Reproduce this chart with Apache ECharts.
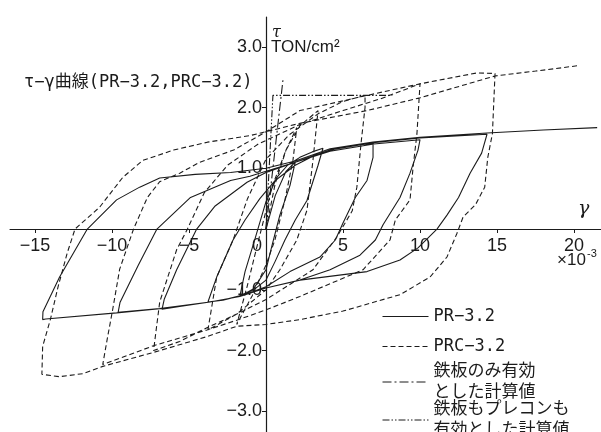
<!DOCTYPE html>
<html lang="ja">
<head>
  <meta charset="UTF-8">
  <title>τ-γ曲線</title>
  <script src="https://cdn.jsdelivr.net/npm/echarts@6.0.0/dist/echarts.min.js"></script>
  <style>
    html, body { margin: 0; padding: 0; background: #fff; }
  </style>
</head>
<body>
<div id="main" style="width:601px;height:432px;"></div>
<script>
  // 目盛り
  const xTicks = [-15, -10, -5, 0, 5, 10, 15, 20];
  const yTicks = [-3, -2, -1, 1, 2, 3];

  // PR-3.2 (実線) 履歴の各区間 [γ(×10^-3), τ(TON/cm2)]
  const prInit = [[0, 0], [0.6, 0.55], [1.3, 0.95], [1.9, 1.1]];
  const prUnload1 = [[1.9, 1.1], [1.56, 0.72], [0.9, 0.23], [0.4, -0.26], [0, -0.67], [-0.8, -0.98], [-1.7, -1.11]];
  const prReload1 = [[-1.7, -1.11], [-1.36, -0.7], [-0.7, -0.15], [0, 0.45], [0.7, 0.85], [1.4, 1.05], [2.2, 1.18], [3.0, 1.27], [3.7, 1.33]];
  const prUnload2 = [[3.7, 1.33], [3.38, 1.05], [2.66, 0.47], [1.9, 0.15], [1.23, -0.18], [0.58, -0.54], [0, -0.84], [-0.8, -1.0], [-1.7, -1.1], [-2.8, -1.17], [-3.77, -1.2]];
  const prReload2 = [[-3.77, -1.2], [-3.2, -0.79], [-2.14, -0.18], [-1.36, 0.15], [-0.4, 0.5], [0.6, 0.8], [1.9, 1.05], [3.2, 1.22], [4.5, 1.32], [5.8, 1.38], [6.95, 1.41]];
  const prUnload3 = [[6.95, 1.41], [6.95, 1.18], [6.56, 0.8], [5.8, 0.52], [5.0, 0.1], [4.5, -0.18], [3.5, -0.46], [1.56, -0.7], [0, -0.95], [-1.7, -1.11], [-3.64, -1.2], [-5.5, -1.27], [-6.75, -1.32]];
  const prReload3 = [[-6.75, -1.34], [-6.6, -1.15], [-5.8, -0.67], [-4.5, 0], [-3.3, 0.38], [-1.23, 0.77], [0, 0.93], [1.9, 1.1], [4.16, 1.28], [7, 1.4], [10, 1.47]];
  const prUnload4 = [[10, 1.47], [9.87, 1.3], [9.35, 0.92], [8.7, 0.52], [7.6, 0.07], [7.1, -0.18], [6.1, -0.43], [4.16, -0.67], [2.2, -0.84], [0, -0.97], [-1.7, -1.11], [-3.64, -1.2], [-6.9, -1.31], [-9.6, -1.37]];
  const prReload4 = [[-9.6, -1.39], [-9.48, -1.21], [-8.3, -0.6], [-7.08, 0], [-4.9, 0.52], [-2.3, 0.8], [-1.04, 0.87], [0, 0.95], [1.9, 1.1], [4.16, 1.3], [6.95, 1.42], [10, 1.5], [14.35, 1.56]];
  const prUnload5 = [[14.35, 1.56], [14.0, 1.25], [13.25, 0.92], [12.5, 0.52], [11.75, 0.23], [11.1, 0], [9.87, -0.31], [8.7, -0.51], [6.56, -0.7], [2.2, -0.84], [0, -0.97], [-1.7, -1.11], [-3.64, -1.2], [-6.9, -1.31], [-9.7, -1.38], [-14.3, -1.48], [-14.5, -1.49]];
  const prReload5 = [[-14.5, -1.49], [-14.48, -1.36], [-13.4, -0.79], [-11.6, 0], [-9.7, 0.48], [-8.2, 0.69], [-6.9, 0.84], [-4.6, 0.9], [-2.3, 0.93], [0, 1.0], [1.9, 1.12], [4.16, 1.32], [6.95, 1.43], [10, 1.51], [14.35, 1.58], [18, 1.63], [21.5, 1.67]];

  // PRC-3.2 (破線)
  const prcInit = [[0, 0], [0.6, 0.75], [1.3, 1.3], [2.0, 1.67]];
  const prcUnload1 = [[2.0, 1.67], [1.75, 1.13], [1.23, 0.48], [0.58, -0.18], [0, -0.59], [-0.9, -1.1], [-1.9, -1.57]];
  const prcReload1 = [[-1.9, -1.57], [-1.23, -0.95], [-0.5, -0.2], [0.4, 0.7], [1.3, 1.3], [2.2, 1.7], [3.38, 1.95]];
  const prcUnload2 = [[3.38, 1.95], [3.05, 1.13], [2.66, 0.31], [2.0, -0.18], [0.9, -0.67], [0, -1.0], [-1.9, -1.4], [-3.77, -1.66]];
  const prcReload2 = [[-3.77, -1.66], [-3.2, -0.79], [-2.14, -0.18], [-1.2, 0.5], [0, 1.15], [1.5, 1.55], [3.4, 1.9], [5, 2.1], [6.43, 2.2]];
  const prcUnload3 = [[6.43, 2.2], [6.43, 2.0], [6.17, 1.41], [5.9, 0.69], [5.6, 0.3], [4.6, -0.13], [3.05, -0.67], [0, -1.16], [-1.9, -1.4], [-3.8, -1.62], [-5.6, -1.85], [-7.3, -2.0]];
  const prcReload3 = [[-7.3, -2.02], [-6.9, -1.2], [-5.8, -0.34], [-5.1, 0], [-4.0, 0.6], [-2.5, 1.05], [-0.5, 1.4], [2.2, 1.72], [5, 1.95], [7.5, 2.15], [10, 2.39]];
  const prcUnload4 = [[10, 2.39], [9.8, 1.57], [9.55, 1.02], [9.35, 0.48], [8.4, 0.15], [8.05, -0.18], [6.3, -0.67], [2.2, -1.11], [0, -1.33], [-1.9, -1.5], [-3.83, -1.66], [-7.3, -1.92], [-10.6, -2.23]];
  const prcReload4 = [[-10.6, -2.23], [-10.3, -1.8], [-9.95, -1.32], [-9.5, -0.66], [-8.6, 0], [-7.7, 0.52], [-6.9, 0.78], [-5.6, 0.92], [-4.3, 1.1], [-2.1, 1.3], [0, 1.6], [2.2, 1.95], [6.56, 2.2], [10, 2.39], [13.7, 2.57], [14.87, 2.56]];
  const prcUnload5 = [[14.87, 2.54], [14.7, 1.57], [14.4, 1.18], [14.2, 0.69], [13.6, 0.4], [12.8, 0.2], [12.4, -0.07], [11.75, -0.46], [10.65, -0.79], [8.7, -1.08], [5, -1.35], [2.2, -1.49], [0, -1.57], [-1.9, -1.6], [-3.83, -1.77], [-7.3, -2.03], [-10.6, -2.26], [-11.9, -2.38], [-13.4, -2.43], [-14.55, -2.39]];
  const prcReload5 = [[-14.55, -2.39], [-14.5, -1.93], [-14.0, -1.49], [-13.5, -0.95], [-12.9, -0.39], [-12.4, 0], [-10.8, 0.36], [-9.3, 0.85], [-8.0, 1.13], [-6.0, 1.3], [-3.8, 1.43], [-1.0, 1.54], [2.2, 1.74], [6.56, 1.95], [10, 2.16], [14.87, 2.52], [17.5, 2.6], [20.3, 2.69]];

  // 計算値
  const steelOnly = [[0, 0], [1.1, 2.45]];
  const steelAndPc = [[0, 0], [0.45, 2.2], [8.2, 2.2]];

  const prData = [].concat(prInit, prUnload1, prReload1, prUnload2, prReload2, prUnload3, prReload3, prUnload4, prReload4, prUnload5, prReload5);
  const prcData = [].concat(prcInit, prcUnload1, prcReload1, prcUnload2, prcReload2, prcUnload3, prcReload3, prcUnload4, prcReload4, prcUnload5, prcReload5);

  const names = ['PR−3.2', 'PRC−3.2', '鉄板のみ有効\nとした計算値', '鉄板もプレコンも\n有効とした計算値'];
  const ink = '#1b1b1b';
  const mono = "'DejaVu Sans Mono', 'Noto Sans CJK JP', monospace";
  const minus = v => (v < 0 ? '−' : '') + Math.abs(v);

  function lineSeries(name, data, dash, width) {
    return {
      name: name,
      type: 'line',
      data: data,
      symbol: 'none',
      showSymbol: false,
      silent: true,
      itemStyle: { color: ink },
      lineStyle: { color: ink, width: width, type: dash }
    };
  }

  function legendAt(name, top) {
    return {
      data: [name],
      left: 382,
      top: top,
      padding: 0,
      itemWidth: 46,
      itemHeight: 14,
      selectedMode: false,
      itemStyle: { opacity: 0 },
      lineStyle: { width: 1 },
      textStyle: { fontFamily: mono, fontSize: 17, lineHeight: 21, color: ink }
    };
  }

  let myChart = echarts.init(document.getElementById('main'));
  let option = {
    animation: false,
    backgroundColor: '#fff',
    title: {
      text: 'τ−γ曲線(PR−3.2,PRC−3.2)',
      left: 24,
      top: 74,
      padding: 0,
      textStyle: { fontFamily: mono, fontSize: 17, fontWeight: 'normal', color: ink }
    },
    legend: [
      legendAt(names[0], 306),
      legendAt(names[1], 336),
      legendAt(names[2], 361),
      legendAt(names[3], 399)
    ],
    grid: { left: 10, right: 0, top: 17, bottom: 0 },
    xAxis: {
      type: 'value',
      min: -16.62,
      max: 21.75,
      position: 'bottom',
      offset: -203,
      axisLine: { onZero: false, lineStyle: { color: ink, width: 1 } },
      axisTick: { customValues: xTicks, length: 4, lineStyle: { color: ink } },
      axisLabel: {
        customValues: xTicks,
        margin: 8,
        formatter: v => v === 0 ? '{z|0}' : minus(v),
        rich: { z: { padding: [0, 18, 0, 0], fontSize: 18, fontFamily: "'Liberation Sans', sans-serif", color: ink } },
        fontFamily: "'Liberation Sans', sans-serif",
        fontSize: 18,
        color: ink
      },
      splitLine: { show: false }
    },
    yAxis: {
      type: 'value',
      min: -3.34,
      max: 3.49,
      position: 'left',
      offset: -256,
      axisLine: { onZero: false, lineStyle: { color: ink, width: 1.2 } },
      axisTick: { customValues: yTicks, length: 4, lineStyle: { color: ink } },
      axisLabel: {
        customValues: yTicks,
        margin: 4,
        formatter: v => minus(v) + (Number.isInteger(v) ? '.0' : ''),
        fontFamily: "'Liberation Sans', sans-serif",
        fontSize: 18,
        color: ink
      },
      splitLine: { show: false }
    },
    graphic: [
      { type: 'text', left: 272, top: 25, style: { text: 'τ', font: 'italic 16px "DejaVu Serif"', fill: ink } },
      { type: 'text', left: 271, top: 39, style: { text: 'TON/cm²', font: '17px "Liberation Sans"', fill: ink } },
      { type: 'text', left: 578, top: 200, style: { text: 'γ', font: 'italic 19px "DejaVu Serif"', fill: ink } },
      { type: 'text', left: 557, top: 252, style: { text: '×10', font: '17px "Liberation Sans"', fill: ink } },
      { type: 'text', left: 587, top: 248, style: { text: '-3', font: '11px "Liberation Sans"', fill: ink } }
    ],
    series: [
      lineSeries(names[0], prData, 'solid', 1.1),
      lineSeries(names[1], prcData, [5, 3], 1.1),
      lineSeries(names[2], steelOnly, [9, 3, 2, 3], 1.1),
      lineSeries(names[3], steelAndPc, [7, 2, 1.5, 2, 1.5, 2], 1.1)
    ]
  };
  myChart.setOption(option);
</script>
</body>
</html>
